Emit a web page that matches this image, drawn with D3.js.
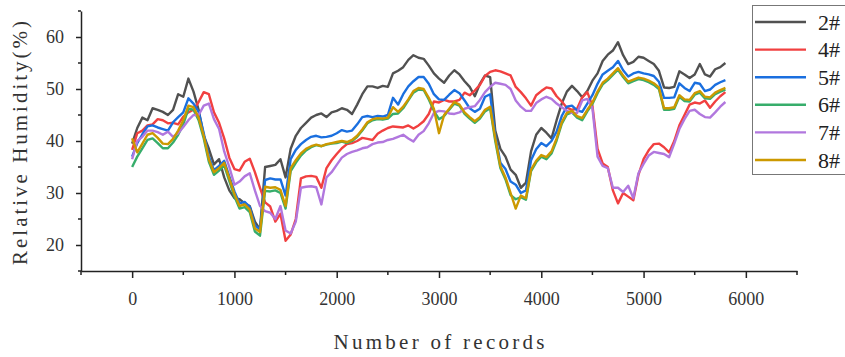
<!DOCTYPE html>
<html>
<head>
<meta charset="utf-8">
<script src="https://cdn.jsdelivr.net/npm/d3@7"></script>
<style>
    body { margin: 0; background: #fff; }
    svg { display: block; }
</style>
</head>
<body>
<svg id="chart"></svg>
<script>

// DATA (relative humidity read every 50 records)

const recordStep = 50;

const rh2 = [
    39.5, 42.5, 44.5, 44, 46.3, 46, 45.6, 45, 46, 49,
    48.5, 52, 49.5, 46, 41, 38.5, 35.5, 36.5, 33, 30.5,
    29, 28.8, 28, 27.5, 24.5, 23, 35, 35.2, 35.4, 36.5,
    33, 38.5, 41, 42.5, 43.5, 44.5, 45, 45.3, 44.6, 45.5,
    45.8, 46.3, 46, 45.2, 47, 49, 50.5, 50.5, 50.2, 50.6,
    50.4, 53, 53.5, 54.2, 55.6, 56.5, 56, 55.8, 54.5, 53,
    52, 51.2, 52.6, 53.6, 52.8, 51.5, 50.4, 48.6, 51, 52.6,
    52.3, 42, 38.5, 37, 34.5, 33.5, 31, 32, 38, 41.2,
    42.5, 41.6, 40.5, 44, 47.2, 49.5, 50.6, 49.6, 48.4, 49.6,
    51.6, 53, 55.4, 56.6, 57.4, 59, 56.5, 54.8, 55.2, 56.2,
    56, 55.4, 54.8, 53.5, 50.3, 50.2, 50.4, 53.4, 52.8, 52.1,
    52.8, 54.8, 52.8, 52.4, 53.8, 54.2, 55
];

const rh4 = [
    38.3, 41.5, 42, 43, 43.2, 44.2, 44, 43.4, 43.5, 43.2,
    44.7, 45.5, 46, 47.5, 49.4, 49, 45.5, 43.5, 40.5, 36.8,
    34.6, 34.3, 36, 36.6, 34, 31, 28.2, 27.4, 24.5, 26,
    20.8, 22, 25, 32.8, 33.2, 33.3, 33.1, 31, 34.8, 36.3,
    37.5, 38.6, 39.4, 39.6, 40, 40.6, 40.4, 40.2, 41.4, 42,
    42.5, 42.8, 42.7, 42.6, 43, 42.4, 43, 43.8, 45.2, 47.6,
    47.4, 47.9, 47.6, 47.6, 47.9, 49.3, 48.8, 49.7, 50.8, 52.5,
    53.3, 53.6, 53.4, 53, 52.6, 50.4, 49.4, 48.2, 46.8, 48.8,
    49.6, 50.3, 50.1, 48.6, 47.6, 46.4, 46, 46.2, 48.4, 49.4,
    46.8, 38.5, 35.7, 35, 30.5, 28, 30, 29.3, 28.6, 33.5,
    36.5, 38.2, 39.4, 39.5, 38.8, 37.8, 40, 43, 45, 47,
    47.4, 47.2, 47.8, 46.4, 47.6, 48.6, 49.4
];

const rh5 = [
    37, 39.6, 41.3, 42.8, 43, 42.6, 42.3, 42, 43.6, 44.6,
    45.5, 48.2, 47.2, 45.6, 41.5, 37, 34.4, 35.2, 36.2, 33.2,
    30.3, 28, 28.3, 27.3, 23.8, 23, 32.5, 32.8, 32.6, 32.6,
    29.5, 36.5, 38.3, 39.4, 40.2, 40.8, 41, 40.7, 40.8, 41,
    41.5, 42.1, 41.8, 42, 43.2, 44.6, 44.8, 44.6, 44.8, 44.7,
    45, 48.3, 47, 49, 50.5, 51.5, 52.3, 52.3, 51, 49,
    48, 47.9, 48.9, 49.8, 49.2, 47.8, 46.3, 45.6, 46.2, 48.5,
    49, 41, 35.8, 34.6, 32.2, 31.6, 30, 30.5, 36.3, 38.4,
    39.6, 39, 40, 41.8, 44.8, 46.6, 46.8, 45.9, 45.6, 47.2,
    48.8, 51, 52.8, 53.5, 54.2, 55.4, 53.6, 52.4, 53, 53.3,
    53, 52.8, 52.5, 51.4, 48.3, 48.3, 48.4, 51.1, 50.2, 49.6,
    51.2, 51, 49.6, 49.9, 50.8, 51.3, 51.7
];

const rh6 = [
    35, 37, 38.6, 40.2, 40.5, 39.6, 38.6, 38.6, 39.7, 41.2,
    43.2, 46.2, 46, 44, 40.5, 36, 33.5, 34.3, 35.3, 32.3,
    29.3, 27, 27.3, 26.3, 22.6, 21.8, 30.4, 30.3, 30.5, 30,
    27, 34.2, 35.8, 37.2, 38.2, 38.8, 39.2, 39, 39.3, 39.5,
    39.6, 39.9, 39.6, 40, 40.8, 42, 43.4, 44, 44.2, 44.1,
    44.3, 45.2, 45.3, 46.3, 47.8, 49.3, 49.9, 49.8, 48, 45.8,
    44.2, 44.8, 46, 47.2, 46.8, 45.2, 44.3, 43.5, 44.3, 45.7,
    46.3, 40, 34.8, 32.6, 29.6, 28.8, 29.2, 28.7, 34.2, 35.9,
    37, 36.5, 37.6, 40.1, 43.3, 45.1, 45.5, 44.5, 44, 45.7,
    47.1, 49.2, 50.9, 51.7, 52.7, 53.7, 52.3, 51.1, 51.5, 51.9,
    51.7, 51.3, 50.8, 50, 46, 46, 46.2, 48.5, 47.7, 47.6,
    48.9, 49.3, 48.2, 48.1, 49, 49.5, 49.9
];

const rh7 = [
    36.5, 40, 40.8, 42, 42, 41.7, 41.2, 41.8, 40.8, 41.5,
    42.7, 44, 45, 45, 46.8, 47.2, 44.2, 42.3, 38, 35,
    31.6, 32.2, 33.2, 33.8, 30.5, 27.5, 26.5, 26.2, 25, 27.5,
    22.8, 22.2, 24.5, 31, 31.2, 31.3, 31.1, 27.8, 33, 34,
    35.4, 36.8, 37.5, 37.9, 38.2, 38.6, 38.8, 39.4, 39.7, 39.8,
    40.2, 40.4, 40.8, 41.2, 40.5, 39.9, 41.2, 41.9, 43.4, 45.4,
    45.8, 45.7, 45.3, 45.2, 45.5, 46.2, 46.5, 46.7, 47.9, 49.4,
    50.4, 51.2, 51, 50.8, 50, 47.8, 46.6, 45.8, 45.8, 47.3,
    48, 48.5, 48.1, 47.2, 46.5, 45.8, 45.4, 45.4, 47.8, 48.1,
    46.3, 37, 35.2, 34.8, 31, 31, 30.2, 31.4, 29, 33.8,
    35.6, 37.2, 37.9, 37.7, 37.5, 36.9, 39.5, 42.3, 44.2, 45.8,
    46, 45.2, 44.6, 44.5, 45.5, 46.6, 47.5
];

const rh8 = [
    40.5, 37.8, 39.5, 41.2, 41.5, 40.6, 39.5, 39.4, 40.4, 42,
    44, 46.8, 46.5, 44.5, 41, 36.5, 34, 34.8, 35.8, 32.8,
    29.8, 27.5, 27.8, 26.8, 23.2, 22.5, 31.2, 31, 31.1, 30.6,
    27.5, 34.8, 36.3, 37.6, 38.5, 39, 39.3, 39, 39.4, 39.6,
    39.8, 40, 39.8, 40.2, 41, 42.2, 43.6, 44.2, 44.4, 44.3,
    44.5, 46.5, 45.6, 46.6, 48, 49.6, 50.2, 50, 48.3, 46.2,
    41.5, 45, 46.2, 47.5, 47, 45.5, 44.6, 43.8, 44.6, 46,
    46.6, 40.5, 35.2, 33, 30, 27, 29.5, 29, 34.5, 36.2,
    37.3, 36.9, 38, 40.5, 43.6, 45.4, 45.8, 44.8, 44.4, 46,
    47.4, 49.5, 51.2, 52, 53, 54, 52.6, 51.4, 51.8, 52.2,
    52, 51.6, 51.1, 50.3, 46.3, 46.3, 46.5, 48.8, 48, 47.9,
    49.2, 49.6, 48.5, 48.4, 49.3, 49.8, 50.2
];

const seriesNames = ["2#", "4#", "5#", "6#", "7#", "8#"];
const seriesValues = [rh2, rh4, rh5, rh6, rh7, rh8];
const seriesColors = ["#515151", "#F14040", "#1A6FDF", "#37AD6B", "#B177DE", "#CC9900"];

const xMajorTicks = [0, 1000, 2000, 3000, 4000, 5000, 6000];
const xMinorTicks = [-500, 500, 1500, 2500, 3500, 4500, 5500, 6500];
const yMajorTicks = [20, 30, 40, 50, 60];
const yMinorTicks = [15, 25, 35, 45, 55, 65];


// CHART

const width = 845;
const height = 357;

const svg = d3.select("#chart")
    .attr("width", width)
    .attr("height", height);

const plotLeft = 81;
const plotRight = 797;
const plotTop = 11;
const plotBottom = 271;

const x = d3.scaleLinear().domain([-500, 6500]).range([plotLeft, plotRight]);
const y = d3.scaleLinear().domain([15, 65]).range([plotBottom, plotTop]);

const tickFont = "'Liberation Serif', 'Times New Roman', serif";


// Lines

const line = d3.line()
    .x(function (d, i) { return x(i * recordStep); })
    .y(function (d) { return y(d); });

for (let i = 0; i < seriesValues.length; i++) {
    svg.append("path")
        .datum(seriesValues[i])
        .attr("fill", "none")
        .attr("stroke", seriesColors[i])
        .attr("stroke-width", 2.4)
        .attr("stroke-linejoin", "round")
        .attr("d", line);
}


// Axes

const xAxis = svg.append("g")
    .attr("transform", "translate(0," + plotBottom + ")")
    .call(d3.axisBottom(x).tickValues(xMajorTicks).tickSize(7).tickSizeOuter(0).tickPadding(14).tickFormat(d3.format("d")));

xAxis.append("g")
    .selectAll("line")
    .data(xMinorTicks)
    .join("line")
    .attr("x1", function (d) { return x(d); })
    .attr("x2", function (d) { return x(d); })
    .attr("y1", 0)
    .attr("y2", 4)
    .attr("stroke", "#222")
    .attr("stroke-width", 1.5);

const yAxis = svg.append("g")
    .attr("transform", "translate(" + plotLeft + ",0)")
    .call(d3.axisLeft(y).tickValues(yMajorTicks).tickSize(5).tickSizeOuter(0).tickPadding(12));

yAxis.append("g")
    .selectAll("line")
    .data(yMinorTicks)
    .join("line")
    .attr("x1", -3)
    .attr("x2", 0)
    .attr("y1", function (d) { return y(d); })
    .attr("y2", function (d) { return y(d); })
    .attr("stroke", "#222")
    .attr("stroke-width", 1.5);

for (let axis of [xAxis, yAxis]) {
    axis.select(".domain").attr("stroke", "#222").attr("stroke-width", 1.5);
    axis.selectAll(".tick line").attr("stroke", "#222").attr("stroke-width", 1.5);
    axis.selectAll(".tick text")
        .attr("fill", "#333")
        .style("font-family", tickFont)
        .style("font-size", "18px");
}


// Axis titles (serif, spread to the reference width)

svg.append("text")
    .attr("x", (plotLeft + plotRight) / 2)
    .attr("y", 349)
    .attr("text-anchor", "middle")
    .attr("fill", "#333")
    .attr("textLength", 211)
    .attr("lengthAdjust", "spacing")
    .style("font-family", tickFont)
    .style("font-size", "21px")
    .text("Number of records");

svg.append("text")
    .attr("transform", "translate(27," + 143 + ") rotate(-90)")
    .attr("text-anchor", "middle")
    .attr("fill", "#333")
    .attr("textLength", 244)
    .attr("lengthAdjust", "spacing")
    .style("font-family", tickFont)
    .style("font-size", "21px")
    .text("Relative Humidity(%)");


// Legend

const legend = svg.append("g");

legend.append("rect")
    .attr("x", 752.5)
    .attr("y", 5.5)
    .attr("width", 100)
    .attr("height", 169)
    .attr("fill", "#fff")
    .attr("stroke", "#777")
    .attr("stroke-width", 1);

for (let i = 0; i < seriesNames.length; i++) {

    let rowY = 22 + i * 27.6;

    legend.append("line")
        .attr("x1", 755)
        .attr("x2", 806)
        .attr("y1", rowY)
        .attr("y2", rowY)
        .attr("stroke", seriesColors[i])
        .attr("stroke-width", 2.4);

    legend.append("text")
        .attr("x", 818)
        .attr("y", rowY + 7.5)
        .attr("fill", "#222")
        .style("font-family", tickFont)
        .style("font-size", "22px")
        .text(seriesNames[i]);

}

</script>
</body>
</html>
